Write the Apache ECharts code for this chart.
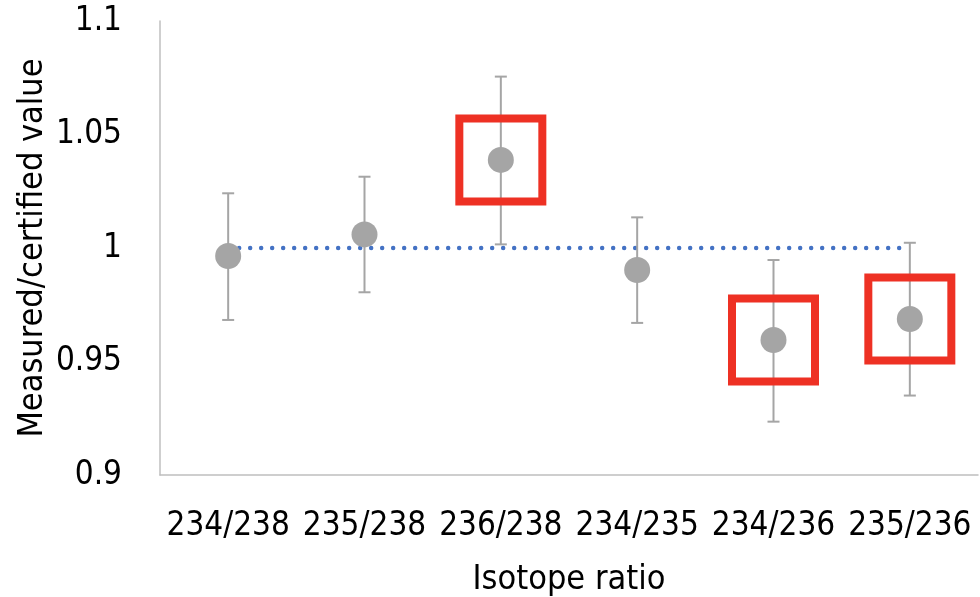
<!DOCTYPE html>
<html>
<head>
<meta charset="utf-8">
<script src="https://cdn.jsdelivr.net/npm/echarts@6/dist/echarts.min.js"></script>
<style>html,body{margin:0;padding:0;background:#fff}#c{width:980px;height:597px}</style>
</head>
<body>
<div id="c"></div>
<script>
const categories = ['234/238', '235/238', '236/238', '234/235', '234/236', '235/236'];
const measured = [0.9965, 1.006, 1.0388, 0.9903, 0.9595, 0.9687];
const errUpper = [1.0241, 1.0314, 1.0755, 1.0135, 0.9947, 1.0023];
const errLower = [0.9683, 0.9805, 1.0016, 0.9670, 0.9235, 0.9350];
const reference = [1, 1, 1, 1, 1, 1];
const highlighted = ['236/238', '234/236', '235/236'];
const yTicks = { min: 0.9, max: 1.1, interval: 0.05 };

const FONT = '"DejaVu Sans Condensed", "Liberation Sans Narrow", "DejaVu Sans", sans-serif';
const chart = echarts.init(document.getElementById('c'), null, { renderer: 'canvas' });

const errData = categories.map((c, i) => [i, errLower[i], errUpper[i]]);
const boxData = categories.map((c, i) => highlighted.includes(c) ? [i, measured[i]] : null).filter(d => d);

chart.setOption({
  animation: false,
  grid: { left: 160, right: 2, top: 21, bottom: 122, outerBoundsMode: 'none', containLabel: false },
  xAxis: {
    type: 'category',
    data: categories,
    boundaryGap: true,
    name: 'Isotope ratio',
    nameLocation: 'middle',
    nameGap: 88,
    nameMoveOverlap: false,
    nameTextStyle: { fontFamily: FONT, fontSize: 34, color: '#000' },
    axisLine: { show: true, lineStyle: { color: '#bfbfbf', width: 1.5 } },
    axisTick: { show: false },
    axisLabel: { fontFamily: FONT, fontSize: 33, color: '#000', margin: 35, interval: 0 },
    splitLine: { show: false }
  },
  yAxis: {
    type: 'value',
    min: yTicks.min, max: yTicks.max, interval: yTicks.interval,
    name: 'Measured/certified value',
    nameLocation: 'middle',
    nameGap: 110,
    nameMoveOverlap: false,
    nameRotate: 90,
    nameTextStyle: { fontFamily: FONT, fontSize: 34, color: '#000' },
    axisLine: { show: true, lineStyle: { color: '#bfbfbf', width: 1.5 } },
    axisTick: { show: false },
    splitLine: { show: false },
    axisLabel: { fontFamily: FONT, fontSize: 33, color: '#000', margin: 38,
      formatter: v => String(Math.round(v * 100) / 100) }
  },
  series: [
    {
      type: 'line',
      data: reference,
      symbol: 'none',
      lineStyle: { color: '#4472c4', width: 4.5, type: [0, 11], cap: 'round' },
      z: 2
    },
    {
      type: 'custom',
      data: errData,
      renderItem: (params, api) => {
        const x = api.value(0);
        const lo = api.coord([x, api.value(1)]);
        const hi = api.coord([x, api.value(2)]);
        const hw = 6;
        const style = { stroke: '#a5a5a5', lineWidth: 2 };
        return {
          type: 'group',
          children: [
            { type: 'line', shape: { x1: hi[0], y1: hi[1], x2: lo[0], y2: lo[1] }, style },
            { type: 'line', shape: { x1: hi[0] - hw, y1: hi[1], x2: hi[0] + hw, y2: hi[1] }, style },
            { type: 'line', shape: { x1: lo[0] - hw, y1: lo[1], x2: lo[0] + hw, y2: lo[1] }, style }
          ]
        };
      },
      z: 3
    },
    {
      type: 'scatter',
      data: measured,
      symbol: 'circle',
      symbolSize: 26,
      itemStyle: { color: '#a5a5a5', opacity: 1 },
      z: 4
    },
    {
      type: 'scatter',
      data: boxData,
      symbol: 'rect',
      symbolSize: 83,
      itemStyle: { color: 'rgba(0,0,0,0)', borderColor: '#ee3124', borderWidth: 8, opacity: 1 },
      z: 5
    }
  ]
});
</script>
</body>
</html>
